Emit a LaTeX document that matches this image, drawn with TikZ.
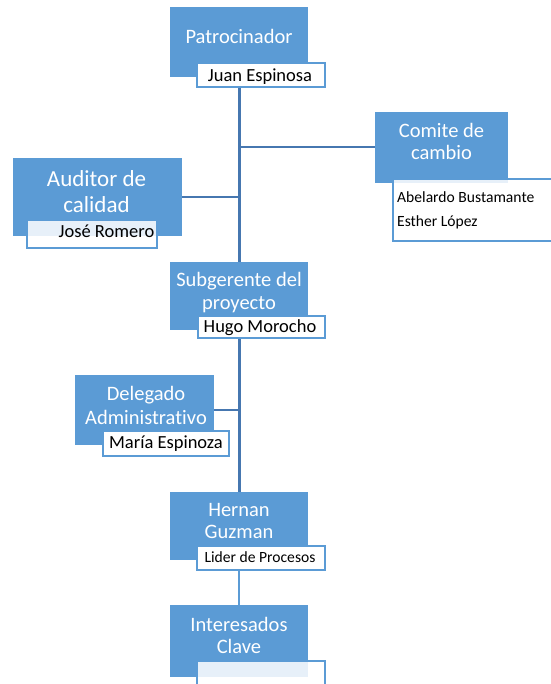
\documentclass[tikz,border=0pt]{standalone}
\usepackage{fontspec}
\setmainfont{Carlito}[Ligatures={CommonOff}]
\definecolor{boxblue}{HTML}{5B9BD5}
\definecolor{linedark}{HTML}{4677B0}
\begin{document}
\begin{tikzpicture}[x=1pt,y=-1pt,
  box/.style={fill=boxblue, draw=none, inner sep=0pt},
  lab/.style={fill=white, draw=boxblue, line width=2pt, inner sep=0pt},
  pale/.style={fill opacity=0.86},
  ttl/.style={text=white, font=\fontsize{20.5}{23}\selectfont, anchor=base, inner sep=0pt},
  bigttl/.style={text=white, font=\fontsize{23}{26}\selectfont, anchor=base, inner sep=0pt},
  nm/.style={text=black, font=\fontsize{18.5}{22}\selectfont, anchor=base, inner sep=0pt},
  smallnm/.style={text=black, font=\fontsize{15.6}{19}\selectfont, anchor=base, inner sep=0pt},
  trunk/.style={draw=linedark, line width=3pt},
  branch/.style={draw=linedark, line width=2pt},
  lowline/.style={draw=boxblue, line width=1.6pt}]
\useasboundingbox (0,0) rectangle (550,684);

% blue boxes
\node[box, minimum width=138pt, minimum height=70pt] (pat) at (239,42) {};
\node[box, minimum width=133pt, minimum height=71pt] (com) at (441.5,147.5) {};
\node[box, minimum width=169pt, minimum height=78pt] (aud) at (97.5,197) {};
\node[box, minimum width=138pt, minimum height=68pt] (sub) at (239,296) {};
\node[box, minimum width=139pt, minimum height=70pt] (del) at (144.5,410) {};
\node[box, minimum width=138pt, minimum height=68pt] (her) at (239,526) {};
\node[box, minimum width=138pt, minimum height=72pt] (int) at (239,641) {};

% label boxes
\node[lab, minimum width=128pt, minimum height=24pt] (patw) at (261,75) {};
\node[lab, pale, minimum width=160pt, minimum height=62pt] (comw) at (473,210) {};
\node[lab, pale, minimum width=130pt, minimum height=28pt] (audw) at (92,234) {};
\node[lab, minimum width=127pt, minimum height=22pt] (subw) at (261.5,327) {};
\node[lab, minimum width=126pt, minimum height=25pt] (delw) at (166,443.5) {};
\node[lab, minimum width=128pt, minimum height=24pt] (herw) at (261,558) {};
\node[lab, pale, minimum width=128pt, minimum height=40pt] (intw) at (261,681) {};

% connectors
\draw[trunk] (patw.south -| pat.south) -- (sub.north);
\draw[branch] (com.west) -- (com.west -| pat.south);
\draw[branch] (aud.east) -- (aud.east -| pat.south);
\draw[trunk] (subw.south -| sub.south) -- (her.north);
\draw[branch] (del.east) -- (del.east -| her.north);
\draw[lowline] (herw.south -| her.south) -- (int.north);

% titles
\node[ttl] (patt) at (239,44) {Patrocinador};
\node[ttl] (comt1) at (441.5,138) {Comite de};
\node[ttl] (comt2) at (441.5,160) {cambio};
\node[bigttl] (audt1) at (96.5,187) {Auditor de};
\node[bigttl] (audt2) at (96.5,213) {calidad};
\node[ttl] (subt1) at (239,286) {Subgerente del};
\node[ttl] (subt2) at (239,309) {proyecto};
\node[ttl] (delt1) at (146,400) {Delegado};
\node[ttl] (delt2) at (146,424) {Administrativo};
\node[ttl] (hert1) at (239,516) {Hernan};
\node[ttl] (hert2) at (239,538) {Guzman};
\node[ttl] (intt1) at (239,631) {Interesados};
\node[ttl] (intt2) at (239,653) {Clave};

% names
\node[nm] (patn) at (260,82) {Juan Espinosa};
\node[smallnm, anchor=base west] (comn1) at (397,203) {Abelardo Bustamante};
\node[smallnm, anchor=base west] (comn2) at (397,227) {Esther López};
\node[nm] (audn) at (106.5,238) {José Romero};
\node[nm] (subn) at (260,332) {Hugo Morocho};
\node[nm] (deln) at (166,448) {María Espinoza};
\node[smallnm] (hern) at (260,562) {Lider de Procesos};
\end{tikzpicture}
\end{document}
